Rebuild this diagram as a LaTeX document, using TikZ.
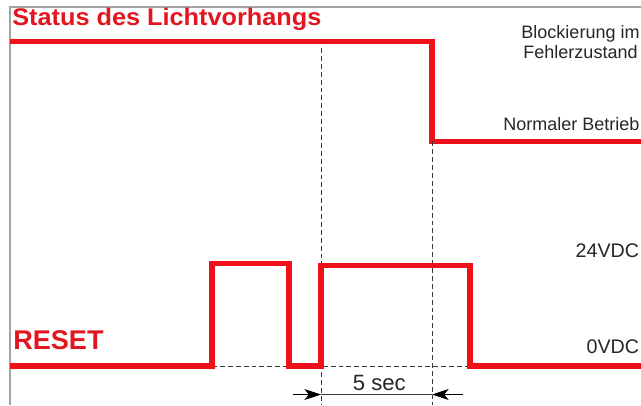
\documentclass[tikz,border=0pt]{standalone}
\usepackage{fontspec}
\setmainfont{Liberation Sans}
\usepackage{tikz}
\usetikzlibrary{arrows.meta, positioning}
\definecolor{C_SIG}  {HTML}{F0101A}
\definecolor{C_HEAD} {HTML}{E3161F}
\definecolor{C_FRAME}{HTML}{A4A4A4}
\definecolor{C_GUIDE}{HTML}{3A3A3A}
\definecolor{C_TXT}  {HTML}{262626}
\tikzset{
  %% -- outer frame (left and top edge) --
  TD/frame/.style={draw=C_FRAME, line width=0.85pt},
  %% -- signal trace --
  TD/sig/.style={draw=C_SIG, line width=2.9pt, line join=miter},
  %% -- dashed guide lines --
  TD/guide/.style={draw=C_GUIDE, line width=0.5pt, dash pattern=on 2.8pt off 1.7pt},
  %% -- dimension line and its arrows --
  TD/dim/.style={draw=C_GUIDE, line width=0.5pt},
  TD/tip/.style={-{Stealth[length=9.5pt, width=6.3pt, inset=2.6pt]}, black, line width=0.5pt},
  %% -- signal names --
  TD/head/.style={text=C_HEAD, inner sep=0pt, anchor=base west},
  %% -- state and level labels --
  TD/lbl/.style={font=\fontsize{10.25}{11}\selectfont, text=C_TXT, inner sep=0pt},
  TD/volt/.style={font=\fontsize{11.2}{13}\selectfont, text=C_TXT, inner sep=0pt, anchor=base east},
}

\begin{document}
\begin{tikzpicture}[x=0.02cm, y=-0.02cm]

\useasboundingbox (0,0) rectangle (641,405);

%% ── Time marks ─────────────────────────────────────────────────────────────
\pgfmathsetmacro{\xPa}{212}   %% first reset pulse rises
\pgfmathsetmacro{\xPb}{289}   %% first reset pulse falls
\pgfmathsetmacro{\xSt}{321}   %% second pulse rises (start of 5 sec)
\pgfmathsetmacro{\xSw}{432}   %% curtain switches to normal operation
\pgfmathsetmacro{\xPe}{470}   %% second pulse falls

%% ── Frame ──────────────────────────────────────────────────────────────────
\draw[TD/frame] (10,405) -- (10,7) -- (641,7);

%% ── Light curtain status ───────────────────────────────────────────────────
\node[TD/head, font=\fontsize{13.7}{16}\selectfont\bfseries, xscale=1.05]
  (title) at (12,26) {Status des Lichtvorhangs};
\node[TD/lbl, align=center, anchor=base] (block) at (580.5,58.3)
  {Blockierung im\\Fehlerzustand};
\node[TD/lbl, anchor=base west] (normal) at (503,130.7) {Normaler Betrieb};

\draw[TD/sig] (10,41.5) -| (\xSw,141.5) -- (641,141.5);

%% ── RESET input ────────────────────────────────────────────────────────────
\node[TD/head, font=\fontsize{15.4}{18}\selectfont\bfseries]
  (reset) at (13,349) {RESET};
\node[TD/volt] (hi) at (639.5,257) {24VDC};
\node[TD/volt] (lo) at (639.5,353.3) {0VDC};

%% guides first, trace on top
\draw[TD/guide] (\xPa,366) -- (\xPe,366);
\draw[TD/guide] (\xSt,48) -- (\xSt,405);
\draw[TD/guide] (\xSw,141.5) -- (\xSw,405);

\draw[TD/sig] (10,366) -| (\xPa,263.5) -| (\xPb,366) -| (\xSt,265.5)
  -| (\xPe,366) -- (641,366);

%% ── 5 sec dimension ────────────────────────────────────────────────────────
\coordinate (d0) at (\xSt,394.5);
\coordinate (d1) at (\xSw,394.5);
\coordinate (a0) at (293,394.5);
\coordinate (a1) at (463,394.5);
\draw[TD/dim] (d0) -- (d1);
\draw[TD/tip] (a0) -- (d0);
\draw[TD/tip] (a1) -- (d1);
\node[TD/lbl, font=\fontsize{12.6}{14}\selectfont, anchor=base] (dur)
  at (379.3,390) {5 sec};

\end{tikzpicture}
\end{document}
